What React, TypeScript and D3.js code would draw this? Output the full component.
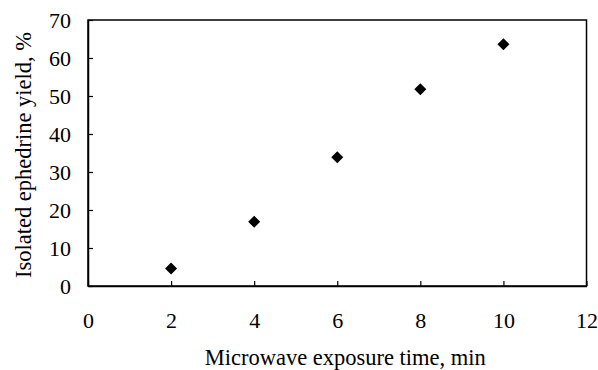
import React, { useEffect, useRef } from 'react';
import * as d3 from 'd3';

// exposure time (min) and isolated yield (%)
const times = [2, 4, 6, 8, 10];
const yields = [4.6, 16.9, 33.9, 51.8, 63.6];
const xTicks = [0, 2, 4, 6, 8, 10, 12];
const yTicks = [0, 10, 20, 30, 40, 50, 60, 70];

const App = () => {
    const svgRef = useRef<SVGSVGElement>(null);

    useEffect(() => {
        const svg = d3.select(svgRef.current);
        svg.selectAll("*").remove();

        const width = 598;
        const height = 370;
        const margin = { top: 20, right: 11.5, bottom: 84, left: 88 };
        const font = "'Liberation Serif', 'Times New Roman', serif";

        const x = d3.scaleLinear()
            .domain([0, 12])
            .range([margin.left, width - margin.right]);

        const y = d3.scaleLinear()
            .domain([0, 70])
            .range([height - margin.bottom, margin.top]);

        // plot box
        svg.append("rect")
            .attr("x", x(0))
            .attr("y", y(70))
            .attr("width", x(12) - x(0))
            .attr("height", y(0) - y(70))
            .attr("fill", "none")
            .attr("stroke", "#000")
            .attr("stroke-width", 1.5);

        // x axis, ticks pointing inward
        const xAxis = svg.append("g")
            .attr("transform", `translate(0,${y(0)})`)
            .call(d3.axisBottom(x).tickValues(xTicks).tickSizeInner(-5).tickSizeOuter(0).tickPadding(26));
        xAxis.select(".domain").attr("stroke-width", 1.5);
        xAxis.selectAll(".tick line").attr("stroke-width", 1.2);
        xAxis.selectAll("text")
            .attr("font-family", font)
            .attr("font-size", 22)
            .attr("fill", "#000");

        // y axis
        const yAxis = svg.append("g")
            .attr("transform", `translate(${x(0)},0)`)
            .call(d3.axisLeft(y).tickValues(yTicks).tickSizeInner(-5).tickSizeOuter(0).tickPadding(17));
        yAxis.select(".domain").attr("stroke-width", 1.5);
        yAxis.selectAll(".tick line").attr("stroke-width", 1.2);
        yAxis.selectAll("text")
            .attr("font-family", font)
            .attr("font-size", 22)
            .attr("fill", "#000");

        // diamond markers
        const diamond = d3.symbol().type(d3.symbolSquare).size(72);
        svg.selectAll("path.pt")
            .data(times)
            .enter()
            .append("path")
            .attr("class", "pt")
            .attr("d", diamond)
            .attr("transform", (d, i) => `translate(${x(d)},${y(yields[i])}) rotate(45)`)
            .attr("fill", "#000");

        // axis titles
        svg.append("text")
            .attr("x", (x(0) + x(12)) / 2 + 8)
            .attr("y", 365)
            .attr("text-anchor", "middle")
            .attr("font-family", font)
            .attr("font-size", 22.5)
            .text("Microwave exposure time, min");

        svg.append("text")
            .attr("transform", `translate(31,155) rotate(-90)`)
            .attr("text-anchor", "middle")
            .attr("font-family", font)
            .attr("font-size", 22.5)
            .text("Isolated ephedrine yield, %");

    }, []);

    return (
        <svg ref={svgRef} width={598} height={370} style={{ position: 'absolute', left: 0, top: 0, background: '#fff' }}></svg>
    );
};

export default App;
